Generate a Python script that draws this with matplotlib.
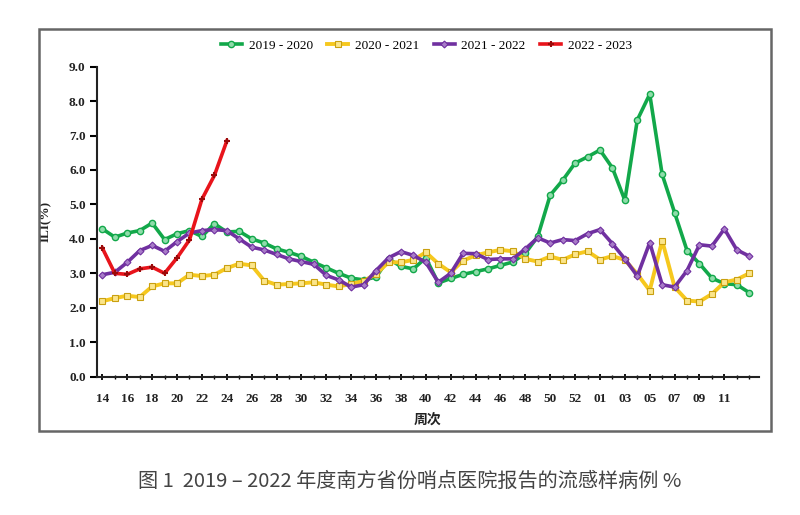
import matplotlib
matplotlib.use("Agg")
import matplotlib.pyplot as plt
from matplotlib.patches import Rectangle

plt.rcParams['font.family'] = ['Liberation Serif', 'Noto Sans CJK SC', 'DejaVu Sans']

# week categories (season runs from week 14 to week 13 of next year)
weeks = ['14', '15', '16', '17', '18', '19', '20', '21', '22', '23',
         '24', '25', '26', '27', '28', '29', '30', '31', '32', '33',
         '34', '35', '36', '37', '38', '39', '40', '41', '42', '43',
         '44', '45', '46', '47', '48', '49', '50', '51', '52', '53',
         '01', '02', '03', '04', '05', '06', '07', '08', '09', '10',
         '11', '12', '13']

ili_2019 = [4.29, 4.05, 4.17, 4.24, 4.46, 3.98, 4.15, 4.24, 4.07, 4.44,
            4.20, 4.22, 4.00, 3.88, 3.71, 3.61, 3.49, 3.32, 3.16, 3.00,
            2.86, 2.81, 2.89, 3.42, 3.20, 3.13, 3.45, 2.72, 2.85, 2.97,
            3.05, 3.13, 3.23, 3.33, 3.58, 4.07, 5.27, 5.70, 6.20, 6.38,
            6.58, 6.06, 5.12, 7.45, 8.20, 5.87, 4.76, 3.66, 3.28, 2.86,
            2.70, 2.67, 2.44]

ili_2020 = [2.19, 2.28, 2.35, 2.31, 2.62, 2.71, 2.71, 2.96, 2.92, 2.96,
            3.15, 3.28, 3.23, 2.79, 2.67, 2.69, 2.71, 2.74, 2.67, 2.62,
            2.69, 2.78, 2.98, 3.32, 3.32, 3.39, 3.61, 3.28, 3.03, 3.37,
            3.52, 3.61, 3.68, 3.64, 3.42, 3.34, 3.49, 3.39, 3.55, 3.64,
            3.40, 3.50, 3.39, 2.98, 2.50, 3.95, 2.60, 2.21, 2.18, 2.40,
            2.74, 2.82, 3.00]

ili_2021 = [2.96, 3.03, 3.32, 3.66, 3.81, 3.64, 3.92, 4.17, 4.24, 4.27,
            4.24, 4.00, 3.76, 3.68, 3.55, 3.42, 3.34, 3.26, 2.94, 2.81,
            2.60, 2.67, 3.08, 3.45, 3.63, 3.52, 3.32, 2.74, 3.00, 3.58,
            3.57, 3.40, 3.42, 3.42, 3.71, 4.03, 3.88, 3.98, 3.95, 4.15,
            4.27, 3.86, 3.42, 2.92, 3.89, 2.67, 2.60, 3.08, 3.83, 3.79,
            4.29, 3.68, 3.50]

ili_2022 = [3.73, 3.00, 2.97, 3.13, 3.18, 3.00, 3.45, 3.97, 5.15, 5.84, 6.84]

fig = plt.figure(figsize=(8, 5.15), dpi=100)
ax = fig.add_axes([0.121, 0.2686, 0.828, 0.602])

x = list(range(len(weeks)))
ax.plot(x, ili_2019, color='#12a84a', lw=2.6, marker='o', ms=4.5,
        mfc='#8fdcaa', mec='#12a84a', mew=1.0, label='2019 - 2020')
ax.plot(x, ili_2020, color='#f6c81e', lw=2.8, marker='s', ms=4,
        mfc='#fbe58a', mec='#c9a010', mew=0.8, label='2020 - 2021')
ax.plot(x, ili_2021, color='#7030a0', lw=2.6, marker='D', ms=3.5,
        mfc='#a87cc8', mec='#7030a0', mew=0.8, label='2021 - 2022')
ax.plot(x[:len(ili_2022)], ili_2022, color='#e8141b', lw=2.6, marker='+',
        ms=5, mec='#9a0a0a', mew=1.5, label='2022 - 2023')

ax.set_xlim(-0.45, 52.8)
ax.set_ylim(0, 9)
ax.set_yticks([i * 1.0 for i in range(10)])
ax.set_yticklabels(['%.1f' % (i * 1.0) for i in range(10)])
# labels every second week, last labelled week is 11
ax.set_xticks(x[0:51:2])
ax.set_xticklabels(weeks[0:51:2])
ax.set_xticks(x, minor=True)

for s in ['top', 'right']:
    ax.spines[s].set_visible(False)
for s in ['left', 'bottom']:
    ax.spines[s].set_linewidth(1.5)
    ax.spines[s].set_color('#222222')

ax.tick_params(axis='y', direction='out', length=5, width=1.5, labelsize=9.5, pad=3)
ax.tick_params(axis='x', which='major', direction='inout', length=5, width=1.3,
               labelsize=9.5, pad=9)
ax.tick_params(axis='x', which='minor', direction='inout', length=3, width=1.0)
for t in ax.get_xticklabels() + ax.get_yticklabels():
    t.set_fontweight('bold')
    t.set_color('#222222')

ax.set_ylabel('ILI(%)', fontsize=9.5, fontweight='bold', labelpad=12, color='#222222')
ax.set_xlabel('周次', fontsize=10, fontweight='bold', labelpad=6, color='#222222',
              family=['Noto Sans CJK SC', 'DejaVu Sans'])

fig.legend(loc='center', bbox_to_anchor=(0.533, 0.911), ncol=4, frameon=False,
           fontsize=9.5, handlelength=1.6, columnspacing=1.1, handletextpad=0.5)

# outer frame around the chart
fig.patches.append(Rectangle((0.049, 0.163), 0.915, 0.781, transform=fig.transFigure,
                             fill=False, ec='#666666', lw=1.8))

fig.text(0.512, 0.066, '图 1  2019 – 2022 年度南方省份哨点医院报告的流感样病例 %',
         ha='center', va='center', fontsize=14.5, color='#444444',
         family=['Noto Sans CJK SC', 'DejaVu Sans'])

fig.savefig('out.png', dpi=100)
